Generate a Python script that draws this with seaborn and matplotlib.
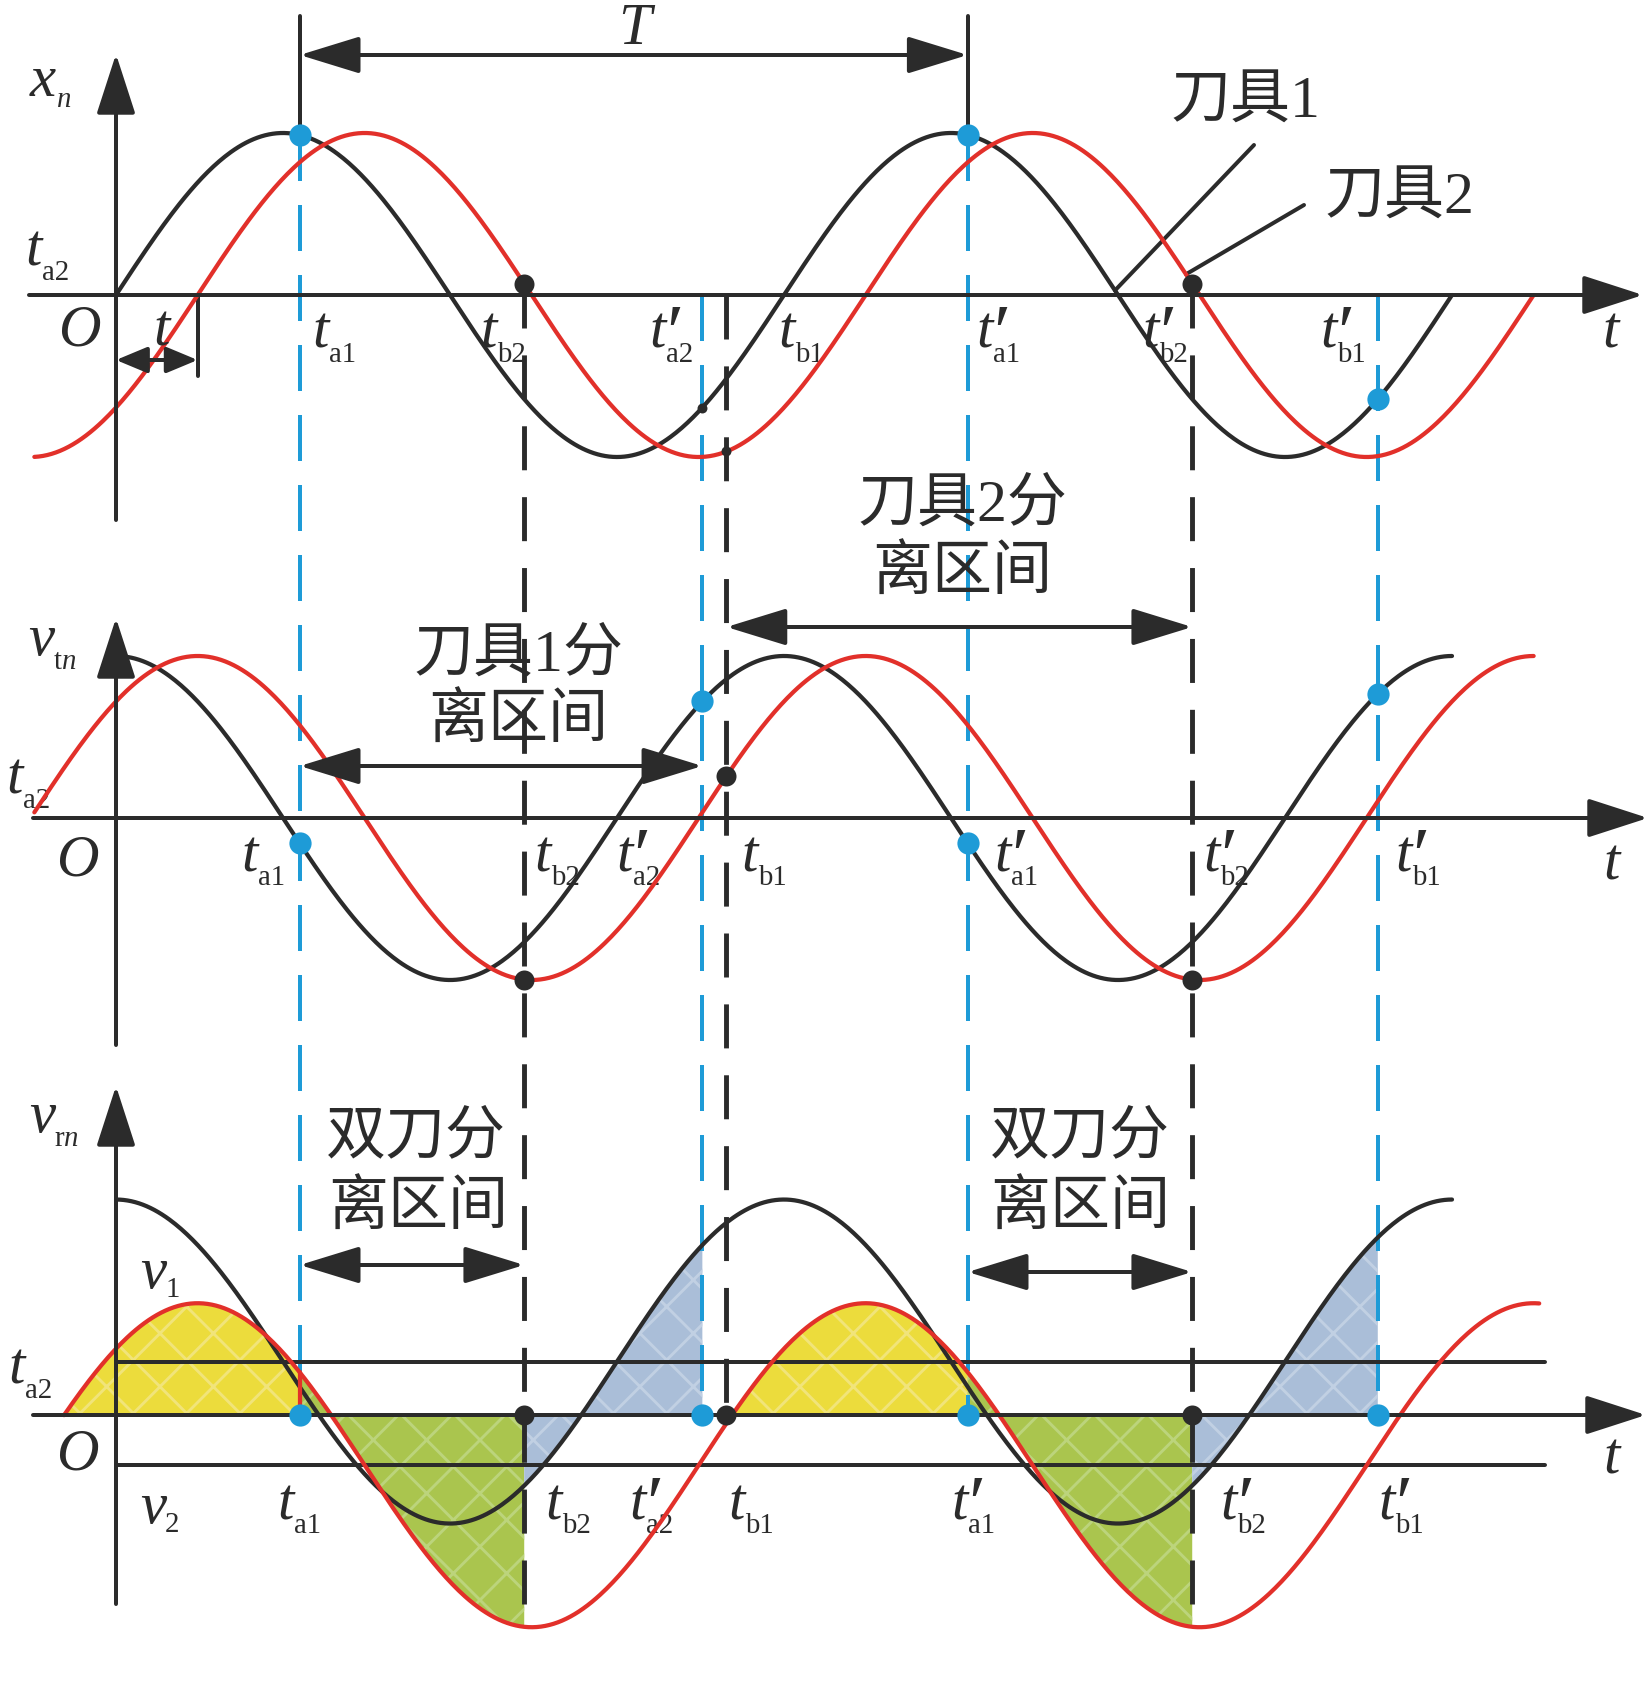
import numpy as np
import pandas as pd
import seaborn as sns
import matplotlib.pyplot as plt

sns.set_theme(style="white")
plt.rcParams["font.family"] = ["Liberation Serif", "Noto Sans CJK SC", "DejaVu Serif"]
plt.rcParams["mathtext.fontset"] = "custom"
plt.rcParams["mathtext.rm"] = "Liberation Serif"
plt.rcParams["mathtext.it"] = "Liberation Serif:italic"
plt.rcParams["hatch.linewidth"] = 1.3

# values
# time in degrees of phase (one period T = 360), amplitude in units of the peak
lag = 44.0                       # tool 2 lags tool 1
tool1_t = [0.0, 720.0]           # black curves
tool2_t_top = [-44.0, 764.0]     # red curves
tool2_t_mid = [-44.0, 764.0]
tool2_t_bot = [-28.0, 767.0]
v1_shift = 0.33                  # bottom panel: v1 baseline above the t axis
v2_shift = -0.31                 # v2 baseline below it
ref_line_end = 770.0

event_t = [99.0, 220.0, 316.0, 329.0, 459.0, 580.0, 680.0]
event_sub = ["a1", "b2", "a2", "b1", "a1", "b2", "b1"]
event_prime = [False, False, True, False, True, True, True]
event_tool = [1, 2, 1, 2, 1, 2, 1]        # 1: blue line, dot on tool 1; 2: black line, dot on tool 2
top_dot = ["big", "big", "small", "small", "big", "big", "big"]

yellow_spans = [(-28.0, 99.0), (329.0, 459.0)]
green_spans = [(99.0, 220.0), (459.0, 580.0)]
blue_spans = [(220.0, 316.0), (580.0, 680.0)]

# layout (pixels of the 1651 x 1700 canvas)
W, H, DPI = 1651, 1700, 160
X0, SX = 116.0, 668.0 / 360.0
Y0, SY = 295.0, 162.0


def to_t(xp):
    return (xp - X0) / SX


def to_y(yp):
    return (Y0 - yp) / SY


top, mid, bot = to_y(295), to_y(818), to_y(1415)

INK = "#2b2b2b"
RED = "#e2302a"
BLUE = "#1e9bd7"
LW = 1.9
FS, SUB_FS, CJK_FS = 26.5, 13, 27


def x1(t):
    return np.sin(np.radians(t))


def x2(t):
    return np.sin(np.radians(np.asarray(t) - lag))


def v1(t):
    return np.cos(np.radians(t))


def v2(t):
    return np.cos(np.radians(np.asarray(t) - lag))


fig = plt.figure(figsize=(W / DPI, H / DPI), dpi=DPI)
ax = fig.add_axes([0, 0, 1, 1])

# curves
ta = np.linspace(*tool1_t, 700)
tb_top = np.linspace(*tool2_t_top, 700)
tb_mid = np.linspace(*tool2_t_mid, 700)
tb_bot = np.linspace(*tool2_t_bot, 700)
curves = pd.concat([
    pd.DataFrame({"t": ta, "y": top + x1(ta), "c": "top1"}),
    pd.DataFrame({"t": tb_top, "y": top + x2(tb_top), "c": "top2"}),
    pd.DataFrame({"t": ta, "y": mid + v1(ta), "c": "mid1"}),
    pd.DataFrame({"t": tb_mid, "y": mid + v2(tb_mid), "c": "mid2"}),
    pd.DataFrame({"t": ta, "y": bot + v1_shift + v1(ta), "c": "bot1"}),
    pd.DataFrame({"t": tb_bot, "y": bot + v2_shift + v2(tb_bot), "c": "bot2"}),
])
for name, d in curves.groupby("c"):
    sns.lineplot(data=d, x="t", y="y", ax=ax, color=INK if name.endswith("1") else RED,
                 lw=LW, sort=False, estimator=None, zorder=4)


# shaded areas, bottom panel
def shade(spans, f, shift, face, hatch_col):
    for a, b in spans:
        t = np.linspace(a, b, 200)
        ax.fill_between(t, bot, bot + shift + f(t), facecolor=face, edgecolor=hatch_col,
                        hatch="x", lw=0, zorder=1)


shade(yellow_spans, v2, v2_shift, "#ecdc3c", "#f1e47a")
shade(green_spans, v2, v2_shift, "#aac54e", "#bcd47c")
shade(blue_spans, v1, v1_shift, "#aabed8", "#c1d0e3")
ax.plot([event_t[0]] * 2, [bot + v2_shift + v2(event_t[0]), bot], color=RED, lw=LW, zorder=4)

# reference lines of v1 and v2
for s in (v1_shift, v2_shift):
    ax.plot([0, ref_line_end], [bot + s, bot + s], color=INK, lw=1.8, zorder=3)


def arrow(xa, ya, xb, yb, style="<|-|>", hl=23.4, hw=7.2, lw=1.8):
    ax.annotate("", xy=(xb, yb), xytext=(xa, ya),
                arrowprops=dict(arrowstyle=f"{style},head_length={hl},head_width={hw}",
                                color=INK, lw=lw, shrinkA=0, shrinkB=0, mutation_scale=1),
                zorder=5)


# axes of the three panels
for base, xs, xe, ys, ye in [(top, 29, 1643, 520, 54), (mid, 33, 1648, 1045, 618),
                              (bot, 33, 1646, 1604, 1086)]:
    arrow(to_t(xs), base, to_t(xe), base, "-|>", 23.5, 7.6)
    arrow(0, to_y(ys), 0, to_y(ye), "-|>", 23.5, 7.6)

# event lines and dots
for t, sub, tool, kind in zip(event_t, event_sub, event_tool, top_dot):
    col = BLUE if tool == 1 else INK
    dot_top = top + (x1(t) if tool == 1 else x2(t))
    y_start = max(top, dot_top)
    y_end = bot + v2_shift + v2(t) if sub == "b2" else bot
    if tool == 1:
        ax.plot([t, t], [y_start, y_end], color=BLUE, lw=1.8, dashes=(11.5, 6), zorder=2)
    else:
        ax.plot([t, t], [y_start, y_end], color=INK, lw=2.2, dashes=(9, 5.5), zorder=2)
    size = 100 if tool == 1 else 81
    if kind == "small":
        ax.scatter([t], [dot_top], s=20, color=INK, lw=0, zorder=6)
    else:
        ax.scatter([t], [dot_top], s=size, color=col, lw=0, zorder=6)
    dot_mid = mid + (v1(t) if tool == 1 else v2(t))
    ax.scatter([t], [dot_mid], s=size, color=col, lw=0, zorder=6)
    ax.scatter([t], [bot], s=size, color=col, lw=0, zorder=6)

# period bracket
for t in (event_t[0], event_t[4]):
    ax.plot([t, t], [to_y(16), top + x1(t)], color=INK, lw=1.8, zorder=3)
arrow(event_t[0], to_y(55), event_t[4], to_y(55))

# delay between the two tools
arrow(0, to_y(360), lag, to_y(360), hl=12, hw=5)
ax.plot([lag, lag], [top, to_y(376)], color=INK, lw=1.8, zorder=3)

# interval arrows
arrow(event_t[0], to_y(766), event_t[2], to_y(766))
arrow(event_t[3], to_y(627), event_t[5], to_y(627))
arrow(event_t[0], to_y(1265), event_t[1], to_y(1265))
arrow(event_t[4], to_y(1272), event_t[5], to_y(1272))

# leaders
t_l1, t_l2 = to_t(1115), to_t(1186)
ax.plot([to_t(1254), t_l1], [to_y(145), top + x1(t_l1)], color=INK, lw=1.8, zorder=3)
ax.plot([to_t(1304), t_l2], [to_y(205), top + x2(t_l2)], color=INK, lw=1.8, zorder=3)


def label(xp, yp, base, sub=None, prime=False, dx=3.8, dy=-9.5, size=FS):
    x, y = to_t(xp), to_y(yp)
    ax.text(x, y, base, fontsize=size, style="italic", ha="center", va="center",
            color=INK, zorder=7)
    if prime:
        ax.annotate("′", (x, y), xytext=(5.5, -2.5), textcoords="offset points",
                    fontsize=size * 1.35, style="italic", ha="center", va="center", color=INK)
    if sub:
        ax.annotate(sub, (x, y), xytext=(dx, dy), textcoords="offset points",
                    fontsize=SUB_FS, ha="left", va="center", color=INK)


def cjk(xp, yp, s):
    ax.text(to_t(xp), to_y(yp), s, fontsize=CJK_FS, ha="center", va="center", color=INK, zorder=7)


# top panel text
label(43, 82, "x", "$n$", dx=6, dy=-8)
label(635, 30, "T")
label(34, 252, "t", "a2")
label(79, 332, "O")
label(162, 332, "t")
label(1611, 334, "t")
cjk(1245, 104, "刀具1")
cjk(1399, 200, "刀具2")

# middle panel text
label(41, 641, "v", r"$\mathrm{t}n$", dx=5.4)
label(15, 780, "t", "a2")
label(77, 862, "O")
label(1612, 865, "t")
cjk(518, 657, "刀具1分")
cjk(518, 723, "离区间")
cjk(962, 507, "刀具2分")
cjk(962, 575, "离区间")

# bottom panel text
label(42, 1118, "v", r"$\mathrm{r}n$", dx=5.4)
label(153, 1274, "v", "1", dx=5.4, dy=-7)
label(153, 1509, "v", "2", dx=5.4, dy=-7)
label(17, 1370, "t", "a2")
label(77, 1455, "O")
label(1612, 1459, "t")
cjk(416, 1139, "双刀分")
cjk(418, 1210, "离区间")
cjk(1080, 1139, "双刀分")
cjk(1080, 1210, "离区间")

# event names under each panel
label_x = {
    334: [321, 489, 658, 787, 985, 1151, 1329],
    857: [250, 543, 625, 750, 1003, 1212, 1404],
    1505: [286, 554, 638, 737, 960, 1229, 1387],
}
for yp, xs in label_x.items():
    for xp, sub, pr in zip(xs, event_sub, event_prime):
        label(xp, yp, "t", sub, pr)

ax.set_xlim(to_t(0), to_t(W))
ax.set_ylim(to_y(H), to_y(0))
ax.axis("off")
fig.savefig("out.png", dpi=DPI)
